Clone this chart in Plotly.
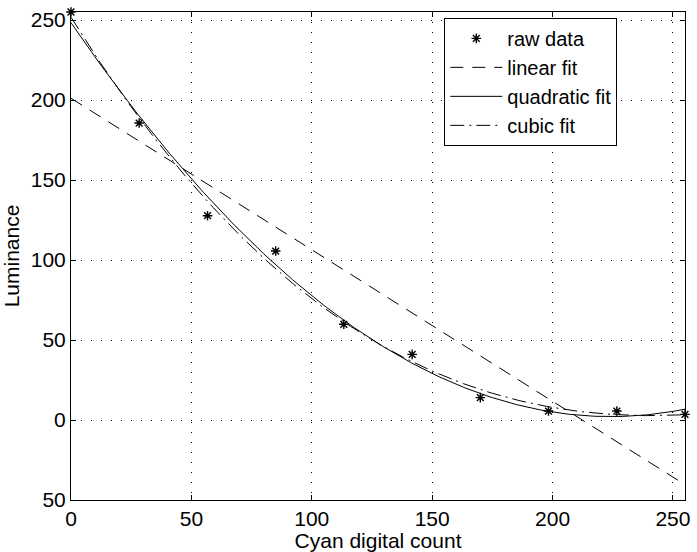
import numpy as np
import plotly.graph_objects as go

# Data
cyan_count = [0, 28.3, 56.7, 85, 113.3, 141.7, 170, 198.3, 226.7, 255]
luminance = [255, 185.6, 127.7, 105.6, 59.8, 41, 14, 5.6, 5.6, 3.5]

x_ticks = [0, 50, 100, 150, 200, 250]
x_tick_text = ["0", "50", "100", "150", "200", "250"]
y_ticks = [-50, 0, 50, 100, 150, 200, 250]
y_tick_text = ["50", "0", "50", "100", "150", "200", "250"]

x_arr = np.array(cyan_count)
y_arr = np.array(luminance)
x_fit = np.linspace(0, 255, 256)
fits = {}
for deg in (1, 2, 3):
    coefs = np.polyfit(x_arr, y_arr, deg)
    fits[deg] = np.polyval(coefs, x_fit)

FONT = "Liberation Sans, Arial, Helvetica, sans-serif"
FS = 21

fig = go.Figure()
fig.add_trace(go.Scatter(x=cyan_count, y=luminance, mode="markers", name="raw data",
                         marker=dict(symbol="asterisk-open", size=8,
                                     line=dict(color="black", width=1.4), color="black"),
                         cliponaxis=False))
fig.add_trace(go.Scatter(x=x_fit, y=fits[1], mode="lines", name="linear fit",
                         line=dict(color="black", width=1, dash="13px,9px")))
fig.add_trace(go.Scatter(x=x_fit, y=fits[2], mode="lines", name="quadratic fit",
                         line=dict(color="black", width=1)))
fig.add_trace(go.Scatter(x=x_fit, y=fits[3], mode="lines", name="cubic fit",
                         line=dict(color="black", width=1, dash="14px,5px,2px,5px")))

axis_common = dict(showline=True, mirror="ticks", linecolor="black", linewidth=1,
                   ticks="inside", ticklen=5, tickcolor="black",
                   showgrid=True, gridcolor="black", gridwidth=1, griddash="1px,9px",
                   zeroline=False, tickfont=dict(size=FS, color="black", family=FONT))

fig.update_xaxes(range=[0, 255], tickvals=x_ticks, ticktext=x_tick_text,
                 title=dict(text="Cyan digital count", font=dict(size=FS, color="black", family=FONT),
                            standoff=0),
                 **axis_common)
fig.update_yaxes(range=[-50, 255], tickvals=y_ticks, ticktext=y_tick_text,
                 title=dict(text="Luminance", font=dict(size=FS, color="black", family=FONT),
                            standoff=6),
                 **axis_common)

fig.update_layout(
    width=697, height=552,
    margin=dict(l=71, r=7, t=12, b=52),
    plot_bgcolor="white", paper_bgcolor="white",
    font=dict(family=FONT, color="black", size=FS),
    legend=dict(x=0.608, y=0.988, xanchor="left", yanchor="top",
                bgcolor="white", bordercolor="black", borderwidth=1,
                font=dict(size=20, family=FONT, color="black"),
                tracegroupgap=0, itemwidth=52),
    showlegend=True,
)

fig.write_html("out.html")
